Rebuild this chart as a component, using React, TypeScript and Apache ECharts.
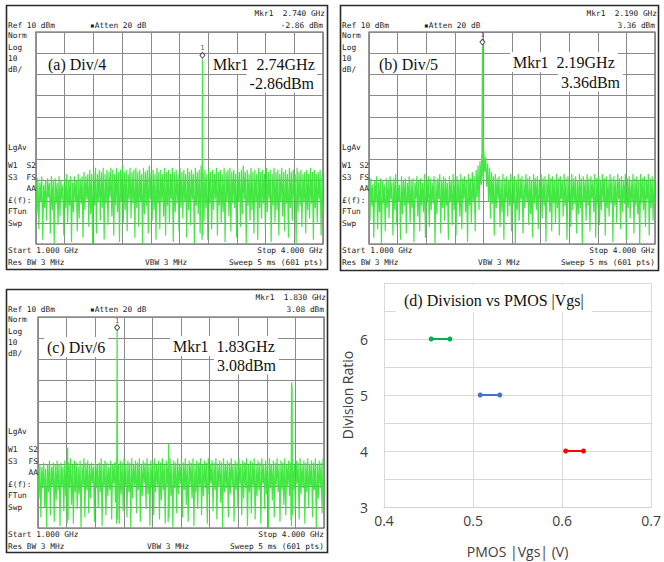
import React, { useEffect, useRef } from "react";
import * as echarts from "echarts";

// ---- Spectrum analyzer data (dBm), sweep 1.000 -> 4.000 GHz ----
const F_START = 1;
const F_STOP = 4;

const A_NOISE = [
  -60, -76, -59, -83, -61, -70, -58, -88, -62, -73, -60, -79, -59, -68, -61, -85, -58, -74, -60, -90,
  -59, -71, -61, -81, -58, -77, -60, -69, -62, -86, -59, -73, -57, -80, -60, -72, -58, -89, -61, -75,
  -58, -70, -60, -84, -57, -78, -59, -71, -58, -87, -56, -74, -58, -69, -57, -82, -55, -76, -57, -90,
  -56, -72, -54, -85, -57, -70, -55, -79, -56, -73, -54, -88, -57, -71, -55, -81, -56, -68, -54, -77,
  -55, -86, -57, -72, -54, -75, -56, -89, -55, -70, -53, -80, -56, -74, -55, -84, -57, -69, -54, -78,
  -56, -71, -55, -87, -54, -73, -56, -82, -55, -70, -57, -90, -54, -76, -56, -72, -55, -85, -53, -69,
  -56, -79, -55, -74, -57, -88, -54, -71, -56, -83, -55, -70, -57, -77, -54, -86, -56, -72, -55, -80,
  -57, -69, -54, -89, -56, -75, -55, -71, -57, -84, -54, -73, -56, -78, -55, -70, -57, -87, -54, -74,
  -56, -81, -55, -69, -57, -90, -54, -72, -56, -76, -55, -85, -53, -70, -56, -79, -55, -73, -57, -88,
  -54, -71, -56, -83, -55, -74, -57, -69, -54, -86, -56, -72, -55, -80, -57, -75, -54, -89, -56, -70,
  -55, -77, -54, -84, -56, -71, -55, -73, -57, -87, -54, -70, -56, -82, -55, -76, -53, -69, -56, -90,
  -55, -72, -57, -79, -54, -74, -56, -85, -55, -70, -57, -88, -54, -73, -56, -78, -55, -71, -57, -83,
  -54, -75, -56, -69, -55, -89, -57, -72, -54, -80, -56, -74, -55, -86, -57, -70, -54, -77, -56, -84,
  -55, -71, -57, -87, -54, -73, -56, -79, -55, -69, -57, -90, -54, -75, -56, -72, -55, -82, -57, -70,
  -56, -85, -55, -74, -57, -78, -54, -71, -56, -88, -55, -73, -57, -80, -56, -69, -55, -86, -57, -76,
];

const B_NOISE = [
  -61, -79, -59, -72, -62, -87, -60, -70, -58, -83, -61, -75, -59, -90, -60, -71, -62, -84, -59, -73,
  -60, -78, -58, -69, -61, -86, -59, -74, -57, -81, -60, -70, -62, -88, -58, -76, -60, -72, -59, -85,
  -61, -71, -58, -80, -60, -73, -59, -89, -61, -69, -58, -77, -60, -84, -59, -72, -61, -75, -57, -87,
  -60, -70, -58, -82, -59, -74, -61, -71, -58, -90, -60, -76, -59, -69, -57, -85, -60, -73, -58, -79,
  -59, -72, -61, -88, -58, -70, -60, -81, -57, -74, -59, -86, -58, -71, -60, -77, -57, -83, -59, -69,
  -58, -75, -60, -89, -57, -72, -59, -80, -56, -70, -58, -84, -55, -68, -53, -74, -51, -62, -48, -58,
  -46, -56, -49, -63, -52, -70, -54, -78, -56, -71, -58, -86, -57, -73, -59, -69, -58, -82, -60, -75,
  -57, -88, -59, -70, -58, -77, -60, -72, -57, -84, -59, -71, -58, -90, -60, -74, -57, -79, -59, -69,
  -58, -85, -60, -73, -57, -70, -59, -81, -58, -76, -60, -87, -57, -71, -59, -74, -58, -83, -60, -69,
  -57, -78, -59, -72, -58, -89, -60, -70, -57, -75, -59, -84, -58, -71, -60, -80, -57, -73, -59, -86,
  -58, -69, -60, -77, -57, -72, -59, -88, -58, -70, -60, -82, -57, -74, -59, -71, -58, -85, -60, -76,
  -57, -73, -59, -90, -58, -70, -60, -79, -57, -72, -59, -84, -58, -69, -60, -75, -57, -87, -59, -71,
  -58, -81, -60, -74, -57, -70, -59, -86, -58, -73, -60, -77, -57, -71, -59, -89, -58, -72, -60, -80,
  -57, -69, -59, -83, -58, -75, -60, -71, -57, -88, -59, -73, -58, -78, -60, -70, -57, -85, -59, -72,
  -58, -76, -60, -90, -57, -71, -59, -74, -58, -82, -60, -69, -57, -86, -59, -73, -58, -79, -60, -71,
];

const C_NOISE = [
  -62, -76, -60, -85, -61, -71, -59, -80, -62, -90, -60, -73, -58, -84, -61, -70, -59, -87, -60, -77,
  -58, -72, -60, -89, -59, -70, -61, -82, -58, -75, -60, -86, -59, -71, -57, -79, -60, -88, -58, -73,
  -59, -81, -61, -74, -58, -90, -60, -70, -57, -85, -59, -72, -58, -83, -60, -76, -59, -69, -61, -87,
  -58, -71, -60, -80, -59, -73, -57, -89, -60, -70, -58, -84, -59, -75, -61, -72, -58, -86, -60, -69,
  -59, -78, -57, -71, -60, -88, -58, -74, -59, -82, -57, -70, -60, -85, -58, -73, -59, -90, -57, -76,
  -60, -70, -58, -83, -59, -72, -57, -87, -60, -75, -58, -69, -59, -81, -57, -74, -60, -89, -58, -71,
  -59, -84, -57, -73, -60, -70, -58, -86, -59, -77, -57, -72, -60, -88, -58, -70, -59, -80, -57, -75,
  -60, -90, -58, -71, -59, -83, -57, -74, -60, -69, -58, -85, -59, -72, -57, -79, -60, -87, -58, -70,
  -59, -76, -57, -89, -60, -73, -58, -81, -59, -70, -57, -84, -60, -75, -58, -71, -59, -88, -57, -74,
  -60, -69, -58, -82, -59, -72, -57, -86, -60, -70, -58, -78, -59, -90, -57, -73, -60, -71, -58, -85,
  -59, -74, -57, -70, -60, -87, -58, -72, -59, -80, -57, -69, -60, -84, -58, -76, -59, -71, -57, -89,
  -60, -73, -58, -83, -59, -70, -57, -86, -60, -75, -58, -72, -59, -88, -57, -69, -60, -81, -58, -74,
  -59, -90, -57, -71, -60, -77, -58, -85, -59, -70, -57, -73, -60, -87, -58, -72, -59, -79, -57, -84,
  -60, -70, -58, -75, -59, -89, -57, -72, -60, -82, -58, -69, -59, -86, -57, -74, -60, -71, -58, -88,
  -59, -73, -57, -80, -60, -70, -58, -85, -59, -72, -57, -90, -60, -76, -58, -71, -59, -83, -57, -74,
];

// peaks / spurs: [GHz, dBm]
const A_PEAKS = [
  [[2.735, -88], [2.74, -2.86], [2.745, -86]],
];
const B_PEAKS = [
  [[2.18, -62], [2.185, -47], [2.19, 3.36], [2.195, -46], [2.2, -60]],
];
const C_PEAKS = [
  [[1.825, -88], [1.83, 3.08], [1.835, -86]],
  [[1.305, -88], [1.31, -52], [1.315, -86]],
  [[2.365, -87], [2.37, -50], [2.375, -85]],
  [[3.655, -86], [3.66, -21], [3.665, -24], [3.67, -84]],
];

const MARKERS = [
  [2.74, -2.86],
  [2.19, 3.36],
  [1.83, 3.08],
];

const HEAD_FREQ = ["Mkr1  2.740 GHz", "Mkr1  2.190 GHz", "Mkr1  1.830 GHz"];
const HEAD_AMP = ["-2.86 dBm", "3.36 dBm", "3.08 dBm"];
const PANEL_LABELS = ["(a) Div/4", "(b) Div/5", "(c) Div/6"];
const MKR_FREQ_TEXT = ["Mkr1\u00a0\u00a02.74GHz", "Mkr1\u00a0\u00a02.19GHz", "Mkr1\u00a0\u00a01.83GHz"];
const MKR_AMP_TEXT = ["-2.86dBm", "3.36dBm", "3.08dBm"];

// ---- Division ratio vs PMOS |Vgs| ----
const DIV_RATIOS = [6, 5, 4];
const VGS_RANGES = [
  [0.453, 0.474],
  [0.508, 0.53],
  [0.604, 0.624],
];
const X_TICKS = [0.4, 0.5, 0.6, 0.7];
const Y_TICK_LABELS = [3, 4, 5, 6];

const MONO = '"DejaVu Sans Mono", monospace';
const SMALL = `7.8px ${MONO}`;
const SERIF_BIG = '16px "Liberation Serif", serif';

type Panel = {
  fx: number; fy: number; fw: number; fh: number;
  gl: number; gt: number; gr: number; gb: number;
  labelX: number; labelY: number;
  mkrX: number; mkrY: number; ampR: number; ampY: number;
};

const PANELS: Panel[] = [
  { fx: 6, fy: 5, fw: 321, fh: 264, gl: 36, gt: 32, gr: 323, gb: 244, labelX: 45, labelY: 64, mkrX: 210, mkrY: 64, ampR: 317, ampY: 83 },
  { fx: 340, fy: 5, fw: 318, fh: 265, gl: 369, gt: 32, gr: 655, gb: 244, labelX: 376, labelY: 64, mkrX: 510, mkrY: 62, ampR: 623, ampY: 82 },
  { fx: 6, fy: 289, fw: 321, fh: 263, gl: 38, gt: 317, gr: 324, gb: 528, labelX: 44, labelY: 347, mkrX: 170, mkrY: 346, ampR: 279, ampY: 365 },
];

function txt(x: number, y: number, text: string, font: string, align = "left", extra: any = {}) {
  return {
    type: "text",
    x,
    y,
    z: 100,
    silent: true,
    style: {
      text,
      font,
      fill: "#222",
      align,
      verticalAlign: "middle",
      textAlign: align,
      textVerticalAlign: "middle",
      ...extra,
    },
  };
}

function panelGraphics(p: Panel, i: number) {
  const { fx, fy, fw, fh, gl, gr, gb } = p;
  const els: any[] = [
    {
      type: "rect",
      z: 100,
      silent: true,
      shape: { x: fx + 0.5, y: fy + 0.5, width: fw, height: fh },
      style: { fill: "none", stroke: "#2a2a2a", lineWidth: 1.6 },
    },
    txt(gr + 2, fy + 8, HEAD_FREQ[i], SMALL, "right"),
    txt(fx + 2, fy + 20, "Ref 10 dBm", SMALL),
    txt(fx + 84, fy + 20, "\u25aaAtten 20 dB", SMALL),
    txt(gr, fy + 20, HEAD_AMP[i], SMALL, "right"),
    txt(fx + 2, fy + 30, "Norm", SMALL),
    txt(fx + 2, fy + 42, "Log", SMALL),
    txt(fx + 2, fy + 53, "10", SMALL),
    txt(fx + 2, fy + 64, "dB/", SMALL),
    txt(fx + 2, fy + 142, "LgAv", SMALL),
    txt(fx + 2, fy + 160, "W1", SMALL),
    txt(gl, fy + 160, "S2", SMALL, "right"),
    txt(fx + 2, fy + 172, "S3", SMALL),
    txt(gl, fy + 172, "FS", SMALL, "right"),
    txt(gl, fy + 183, "AA", SMALL, "right"),
    txt(fx + 2, fy + 195, "\u00a3(f):", SMALL),
    txt(fx + 2, fy + 206, "FTun", SMALL),
    txt(fx + 2, fy + 218, "Swp", SMALL),
    txt(fx + 2, gb + 6, "Start 1.000 GHz", SMALL),
    txt(gr, gb + 6, "Stop 4.000 GHz", SMALL, "right"),
    txt(fx + 2, gb + 18, "Res BW 3 MHz", SMALL),
    txt(gl + 109, gb + 18, "VBW 3 MHz", SMALL),
    txt(gr, gb + 18, "Sweep 5 ms (601 pts)", SMALL, "right"),
    txt(p.labelX, p.labelY, PANEL_LABELS[i], SERIF_BIG, "left", {
      fill: "#111", backgroundColor: "#fff", padding: [2, 3, 2, 3],
    }),
    txt(p.mkrX, p.mkrY, MKR_FREQ_TEXT[i], SERIF_BIG, "left", {
      fill: "#111", backgroundColor: "#fff", padding: [2, 3, 2, 3],
    }),
    txt(p.ampR, p.ampY, MKR_AMP_TEXT[i], SERIF_BIG, "right", {
      fill: "#111", backgroundColor: "#fff", padding: [1, 3, 2, 3],
    }),
  ];
  return els;
}

const sweep = (arr: number[]) =>
  arr.map((v, i) => [(i * (F_STOP - F_START) * 1000) / (arr.length - 1), v]);
const toMHz = (pts: number[][]) => pts.map(([f, v]) => [(f - F_START) * 1000, v]);

export default function App() {
  const ref = useRef<HTMLDivElement>(null);

  useEffect(() => {
    if (!ref.current) return;
    const chart = echarts.init(ref.current, undefined, { renderer: "svg" });

    const noises = [A_NOISE, B_NOISE, C_NOISE];
    const peaks = [A_PEAKS, B_PEAKS, C_PEAKS];

    const grids: any[] = [];
    const xAxes: any[] = [];
    const yAxes: any[] = [];
    const series: any[] = [];
    let graphics: any[] = [];

    PANELS.forEach((p, i) => {
      grids.push({
        left: p.gl,
        top: p.gt,
        width: p.gr - p.gl,
        height: p.gb - p.gt,
        show: true,
        backgroundColor: "#fff",
        borderColor: "#555",
        borderWidth: 1.2,
      });
      xAxes.push({
        gridIndex: i,
        type: "value",
        min: 0,
        max: 3000,
        interval: 300,
        axisLabel: { show: false },
        axisTick: { show: false },
        axisLine: { show: false },
        splitLine: { show: true, lineStyle: { color: "#8a8a8a", width: 1 } },
      });
      yAxes.push({
        gridIndex: i,
        type: "value",
        min: -90,
        max: 10,
        interval: 10,
        axisLabel: { show: false },
        axisTick: { show: false },
        axisLine: { show: false },
        splitLine: { show: true, lineStyle: { color: "#8a8a8a", width: 1 } },
      });
      series.push({
        type: "line",
        xAxisIndex: i,
        yAxisIndex: i,
        data: sweep(noises[i]),
        showSymbol: false,
        silent: true,
        lineStyle: { color: "#30e430", width: 1.2, opacity: 0.9 },
        z: 2,
      });
      peaks[i].forEach((pk) => {
        series.push({
          type: "line",
          xAxisIndex: i,
          yAxisIndex: i,
          data: toMHz(pk),
          showSymbol: false,
          silent: true,
          lineStyle: { color: "#45e845", width: 1.3 },
          z: 3,
        });
      });
      series.push({
        type: "scatter",
        xAxisIndex: i,
        yAxisIndex: i,
        data: toMHz([MARKERS[i]]),
        symbol: "diamond",
        symbolSize: [5, 6],
        symbolOffset: [0, -4],
        silent: true,
        itemStyle: { color: "#fff", borderColor: "#222", borderWidth: 1 },
        label: {
          show: true,
          formatter: "1",
          position: "top",
          distance: 0,
          fontSize: 7,
          fontFamily: MONO,
          color: "#222",
        },
        z: 4,
      });
      graphics = graphics.concat(panelGraphics(p, i));
    });

    // Panel (d)
    const D = 3;
    grids.push({ left: 384, top: 283, width: 271, height: 224, show: false });
    xAxes.push({
      gridIndex: D,
      type: "value",
      min: X_TICKS[0],
      max: X_TICKS[X_TICKS.length - 1],
      interval: 0.1,
      axisLabel: {
        formatter: (v: number) => v.toFixed(1),
        fontFamily: '"Open Sans", sans-serif',
        fontSize: 14,
        color: "#404040",
        margin: 6,
      },
      axisTick: { show: false },
      axisLine: { show: true, lineStyle: { color: "#d0d0d0" } },
      splitLine: { show: true, lineStyle: { color: "#d9d9d9" } },
      name: "PMOS |Vgs| (V)",
      nameLocation: "middle",
      nameGap: 37,
      nameTextStyle: { fontFamily: '"Open Sans", sans-serif', fontSize: 14, color: "#404040" },
    });
    yAxes.push({
      gridIndex: D,
      type: "value",
      min: 3,
      max: 7,
      interval: 0.5,
      axisLabel: {
        formatter: (v: number) => (Y_TICK_LABELS.includes(v) ? String(v) : ""),
        fontFamily: '"Open Sans", sans-serif',
        fontSize: 14,
        color: "#404040",
        margin: 16,
      },
      axisTick: { show: false },
      axisLine: { show: false },
      splitLine: { show: true, lineStyle: { color: "#d9d9d9" } },
      name: "Division Ratio",
      nameLocation: "middle",
      nameRotate: 90,
      nameGap: 30,
      nameTextStyle: { fontFamily: '"Open Sans", sans-serif', fontSize: 14, color: "#404040" },
    });
    const DIV_COLORS = ["#00b050", "#4472c4", "#ff0000"];
    DIV_RATIOS.forEach((r, k) => {
      series.push({
        type: "line",
        xAxisIndex: D,
        yAxisIndex: D,
        data: VGS_RANGES[k].map((v) => [v, r]),
        symbol: "circle",
        symbolSize: 5,
        showSymbol: true,
        silent: true,
        lineStyle: { color: DIV_COLORS[k], width: 2 },
        itemStyle: { color: DIV_COLORS[k] },
        z: 5,
      });
    });
    graphics.push({
      type: "rect",
      z: 100,
      silent: true,
      shape: { x: 396, y: 285, width: 196, height: 27 },
      style: { fill: "#fff" },
    });
    graphics.push(txt(404, 300, "(d) Division vs PMOS |Vgs|", SERIF_BIG, "left", { fill: "#111" }));

    chart.setOption({
      animation: false,
      backgroundColor: "#fff",
      grid: grids,
      xAxis: xAxes,
      yAxis: yAxes,
      series,
      graphic: { elements: graphics },
    });

    return () => chart.dispose();
  }, []);

  return (
    <div
      ref={ref}
      style={{ position: "fixed", left: 0, top: 0, width: 664, height: 562, background: "#fff" }}
    />
  );
}
